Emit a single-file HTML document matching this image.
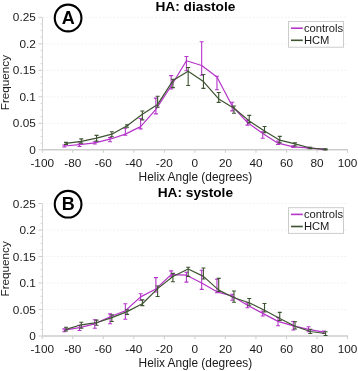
<!DOCTYPE html>
<html><head><meta charset="utf-8"><style>
html,body{margin:0;padding:0;background:#fff;}
body{width:358px;height:371px;overflow:hidden;}
svg{display:block;font-family:"Liberation Sans", sans-serif;will-change:transform;}
</style></head><body>
<svg width="358" height="371" viewBox="0 0 358 371">
<rect width="358" height="371" fill="#fff"/>
<line x1="43" y1="123.3" x2="348" y2="123.3" stroke="#f2f2f2" stroke-width="1" stroke-dasharray="2,1.5"/>
<line x1="43" y1="96.8" x2="348" y2="96.8" stroke="#f2f2f2" stroke-width="1" stroke-dasharray="2,1.5"/>
<line x1="43" y1="70.3" x2="348" y2="70.3" stroke="#f2f2f2" stroke-width="1" stroke-dasharray="2,1.5"/>
<line x1="43" y1="43.8" x2="348" y2="43.8" stroke="#f2f2f2" stroke-width="1" stroke-dasharray="2,1.5"/>
<line x1="43" y1="17.3" x2="348" y2="17.3" stroke="#f2f2f2" stroke-width="1" stroke-dasharray="2,1.5"/>
<line x1="42.5" y1="17.3" x2="42.5" y2="149.8" stroke="#d4d4d4" stroke-width="1"/>
<line x1="42" y1="149.8" x2="348" y2="149.8" stroke="#cdcdcd" stroke-width="1.4"/>
<line x1="38.5" y1="149.8" x2="42" y2="149.8" stroke="#cdcdcd" stroke-width="1"/>
<line x1="38.5" y1="123.3" x2="42" y2="123.3" stroke="#cdcdcd" stroke-width="1"/>
<line x1="38.5" y1="96.8" x2="42" y2="96.8" stroke="#cdcdcd" stroke-width="1"/>
<line x1="38.5" y1="70.3" x2="42" y2="70.3" stroke="#cdcdcd" stroke-width="1"/>
<line x1="38.5" y1="43.8" x2="42" y2="43.8" stroke="#cdcdcd" stroke-width="1"/>
<line x1="38.5" y1="17.3" x2="42" y2="17.3" stroke="#cdcdcd" stroke-width="1"/>
<line x1="40.5" y1="143.18" x2="42" y2="143.18" stroke="#cdcdcd" stroke-width="0.8"/>
<line x1="40.5" y1="136.55" x2="42" y2="136.55" stroke="#cdcdcd" stroke-width="0.8"/>
<line x1="40.5" y1="129.93" x2="42" y2="129.93" stroke="#cdcdcd" stroke-width="0.8"/>
<line x1="40.5" y1="116.68" x2="42" y2="116.68" stroke="#cdcdcd" stroke-width="0.8"/>
<line x1="40.5" y1="110.05" x2="42" y2="110.05" stroke="#cdcdcd" stroke-width="0.8"/>
<line x1="40.5" y1="103.43" x2="42" y2="103.43" stroke="#cdcdcd" stroke-width="0.8"/>
<line x1="40.5" y1="90.18" x2="42" y2="90.18" stroke="#cdcdcd" stroke-width="0.8"/>
<line x1="40.5" y1="83.55" x2="42" y2="83.55" stroke="#cdcdcd" stroke-width="0.8"/>
<line x1="40.5" y1="76.93" x2="42" y2="76.93" stroke="#cdcdcd" stroke-width="0.8"/>
<line x1="40.5" y1="63.68" x2="42" y2="63.68" stroke="#cdcdcd" stroke-width="0.8"/>
<line x1="40.5" y1="57.05" x2="42" y2="57.05" stroke="#cdcdcd" stroke-width="0.8"/>
<line x1="40.5" y1="50.43" x2="42" y2="50.43" stroke="#cdcdcd" stroke-width="0.8"/>
<line x1="40.5" y1="37.18" x2="42" y2="37.18" stroke="#cdcdcd" stroke-width="0.8"/>
<line x1="40.5" y1="30.55" x2="42" y2="30.55" stroke="#cdcdcd" stroke-width="0.8"/>
<line x1="40.5" y1="23.93" x2="42" y2="23.93" stroke="#cdcdcd" stroke-width="0.8"/>
<line x1="42.22" y1="149.8" x2="42.22" y2="152.8" stroke="#cdcdcd" stroke-width="1"/>
<line x1="72.76" y1="149.8" x2="72.76" y2="152.8" stroke="#cdcdcd" stroke-width="1"/>
<line x1="103.29" y1="149.8" x2="103.29" y2="152.8" stroke="#cdcdcd" stroke-width="1"/>
<line x1="133.83" y1="149.8" x2="133.83" y2="152.8" stroke="#cdcdcd" stroke-width="1"/>
<line x1="164.36" y1="149.8" x2="164.36" y2="152.8" stroke="#cdcdcd" stroke-width="1"/>
<line x1="194.9" y1="149.8" x2="194.9" y2="152.8" stroke="#cdcdcd" stroke-width="1"/>
<line x1="225.44" y1="149.8" x2="225.44" y2="152.8" stroke="#cdcdcd" stroke-width="1"/>
<line x1="255.97" y1="149.8" x2="255.97" y2="152.8" stroke="#cdcdcd" stroke-width="1"/>
<line x1="286.51" y1="149.8" x2="286.51" y2="152.8" stroke="#cdcdcd" stroke-width="1"/>
<line x1="317.04" y1="149.8" x2="317.04" y2="152.8" stroke="#cdcdcd" stroke-width="1"/>
<line x1="347.58" y1="149.8" x2="347.58" y2="152.8" stroke="#cdcdcd" stroke-width="1"/>
<text x="35.8" y="153.9" text-anchor="end" font-size="11.8" fill="#1a1a1a">0</text>
<text x="35.8" y="127.4" text-anchor="end" font-size="11.8" fill="#1a1a1a">0.05</text>
<text x="35.8" y="100.9" text-anchor="end" font-size="11.8" fill="#1a1a1a">0.1</text>
<text x="35.8" y="74.4" text-anchor="end" font-size="11.8" fill="#1a1a1a">0.15</text>
<text x="35.8" y="47.9" text-anchor="end" font-size="11.8" fill="#1a1a1a">0.2</text>
<text x="35.8" y="21.4" text-anchor="end" font-size="11.8" fill="#1a1a1a">0.25</text>
<text x="42.22" y="166.8" text-anchor="middle" font-size="11.8" fill="#1a1a1a">-100</text>
<text x="72.76" y="166.8" text-anchor="middle" font-size="11.8" fill="#1a1a1a">-80</text>
<text x="103.29" y="166.8" text-anchor="middle" font-size="11.8" fill="#1a1a1a">-60</text>
<text x="133.83" y="166.8" text-anchor="middle" font-size="11.8" fill="#1a1a1a">-40</text>
<text x="164.36" y="166.8" text-anchor="middle" font-size="11.8" fill="#1a1a1a">-20</text>
<text x="194.9" y="166.8" text-anchor="middle" font-size="11.8" fill="#1a1a1a">0</text>
<text x="225.44" y="166.8" text-anchor="middle" font-size="11.8" fill="#1a1a1a">20</text>
<text x="255.97" y="166.8" text-anchor="middle" font-size="11.8" fill="#1a1a1a">40</text>
<text x="286.51" y="166.8" text-anchor="middle" font-size="11.8" fill="#1a1a1a">60</text>
<text x="317.04" y="166.8" text-anchor="middle" font-size="11.8" fill="#1a1a1a">80</text>
<text x="347.58" y="166.8" text-anchor="middle" font-size="11.8" fill="#1a1a1a">100</text>
<text x="195.4" y="181.1" text-anchor="middle" font-size="11.9" fill="#1a1a1a">Helix Angle (degrees)</text>
<text transform="translate(9,82.6) rotate(-90)" text-anchor="middle" font-size="11.7" fill="#1a1a1a">Frequency</text>
<text x="195.4" y="10.5" text-anchor="middle" font-size="13.7" font-weight="bold" fill="#000">HA: diastole</text>
<circle cx="68.1" cy="18" r="13.35" fill="none" stroke="#000" stroke-width="2.1"/>
<text x="68.3" y="23.8" text-anchor="middle" font-size="18" font-weight="bold" fill="#000">A</text>
<polyline points="64.27,146 79.54,144.6 94.81,142.9 110.08,139.2 125.34,134.1 140.61,126.6 155.88,109.3 171.15,86 186.42,60.8 201.68,65.5 216.95,77 232.22,106 247.49,122.6 262.76,133.5 278.02,143.2 293.29,146.8 308.56,147.8 323.83,149.4" fill="none" stroke="#b534c9" stroke-width="1.2" stroke-linejoin="round"/>
<path d="M64.27 145V147M62.27 145H66.27M62.27 147H66.27" stroke="#b534c9" stroke-width="1.1" fill="none"/>
<path d="M79.54 143V146.5M77.54 143H81.54M77.54 146.5H81.54" stroke="#b534c9" stroke-width="1.1" fill="none"/>
<path d="M94.81 141.8V144M92.81 141.8H96.81M92.81 144H96.81" stroke="#b534c9" stroke-width="1.1" fill="none"/>
<path d="M110.08 137.6V141.8M108.08 137.6H112.08M108.08 141.8H112.08" stroke="#b534c9" stroke-width="1.1" fill="none"/>
<path d="M125.34 128.2V135.3M123.34 128.2H127.34M123.34 135.3H127.34" stroke="#b534c9" stroke-width="1.1" fill="none"/>
<path d="M140.61 118.5V128.9M138.61 118.5H142.61M138.61 128.9H142.61" stroke="#b534c9" stroke-width="1.1" fill="none"/>
<path d="M155.88 98.1V113.9M153.88 98.1H157.88M153.88 113.9H157.88" stroke="#b534c9" stroke-width="1.1" fill="none"/>
<path d="M171.15 75.6V89M169.15 75.6H173.15M169.15 89H173.15" stroke="#b534c9" stroke-width="1.1" fill="none"/>
<path d="M186.42 56.5V70.7M184.42 56.5H188.42M184.42 70.7H188.42" stroke="#b534c9" stroke-width="1.1" fill="none"/>
<path d="M201.68 41.7V75.2M199.68 41.7H203.68M199.68 75.2H203.68" stroke="#b534c9" stroke-width="1.1" fill="none"/>
<path d="M216.95 76.3V89.7M214.95 76.3H218.95M214.95 89.7H218.95" stroke="#b534c9" stroke-width="1.1" fill="none"/>
<path d="M232.22 102.3V110.9M230.22 102.3H234.22M230.22 110.9H234.22" stroke="#b534c9" stroke-width="1.1" fill="none"/>
<path d="M247.49 120.1V125.1M245.49 120.1H249.49M245.49 125.1H249.49" stroke="#b534c9" stroke-width="1.1" fill="none"/>
<path d="M262.76 131.8V138.2M260.76 131.8H264.76M260.76 138.2H264.76" stroke="#b534c9" stroke-width="1.1" fill="none"/>
<path d="M278.02 141V144.5M276.02 141H280.02M276.02 144.5H280.02" stroke="#b534c9" stroke-width="1.1" fill="none"/>
<path d="M293.29 145.8V147.4M291.29 145.8H295.29M291.29 147.4H295.29" stroke="#b534c9" stroke-width="1.1" fill="none"/>
<path d="M308.56 147.4V148.2M306.56 147.4H310.56M306.56 148.2H310.56" stroke="#b534c9" stroke-width="1.1" fill="none"/>
<path d="M323.83 149V149.8M321.83 149H325.83M321.83 149.8H325.83" stroke="#b534c9" stroke-width="1.1" fill="none"/>
<polyline points="66.02,143.4 81.29,141.3 96.56,138.2 111.83,134.2 127.09,125.7 142.36,114.3 157.63,104.4 172.9,80.6 188.17,71.3 203.43,81.6 218.7,98.9 233.97,108.2 249.24,120.9 264.51,131 279.77,140.2 295.04,143.8 310.31,148 325.58,149.4" fill="none" stroke="#3d5331" stroke-width="1.2" stroke-linejoin="round"/>
<path d="M66.02 142.4V144.4M64.02 142.4H68.02M64.02 144.4H68.02" stroke="#3d5331" stroke-width="1.1" fill="none"/>
<path d="M81.29 138.9V143.1M79.29 138.9H83.29M79.29 143.1H83.29" stroke="#3d5331" stroke-width="1.1" fill="none"/>
<path d="M96.56 135.4V141.1M94.56 135.4H98.56M94.56 141.1H98.56" stroke="#3d5331" stroke-width="1.1" fill="none"/>
<path d="M111.83 131.7V136.7M109.83 131.7H113.83M109.83 136.7H113.83" stroke="#3d5331" stroke-width="1.1" fill="none"/>
<path d="M127.09 124.9V127.2M125.09 124.9H129.09M125.09 127.2H129.09" stroke="#3d5331" stroke-width="1.1" fill="none"/>
<path d="M142.36 111V119.9M140.36 111H144.36M140.36 119.9H144.36" stroke="#3d5331" stroke-width="1.1" fill="none"/>
<path d="M157.63 96.3V107.2M155.63 96.3H159.63M155.63 107.2H159.63" stroke="#3d5331" stroke-width="1.1" fill="none"/>
<path d="M172.9 79.2V87.6M170.9 79.2H174.9M170.9 87.6H174.9" stroke="#3d5331" stroke-width="1.1" fill="none"/>
<path d="M188.17 67.5V85.5M186.17 67.5H190.17M186.17 85.5H190.17" stroke="#3d5331" stroke-width="1.1" fill="none"/>
<path d="M203.43 74.5V88.4M201.43 74.5H205.43M201.43 88.4H205.43" stroke="#3d5331" stroke-width="1.1" fill="none"/>
<path d="M218.7 92.5V102.4M216.7 92.5H220.7M216.7 102.4H220.7" stroke="#3d5331" stroke-width="1.1" fill="none"/>
<path d="M233.97 106V113.3M231.97 106H235.97M231.97 113.3H235.97" stroke="#3d5331" stroke-width="1.1" fill="none"/>
<path d="M249.24 115.4V122.6M247.24 115.4H251.24M247.24 122.6H251.24" stroke="#3d5331" stroke-width="1.1" fill="none"/>
<path d="M264.51 126.5V132.7M262.51 126.5H266.51M262.51 132.7H266.51" stroke="#3d5331" stroke-width="1.1" fill="none"/>
<path d="M279.77 136.4V142.7M277.77 136.4H281.77M277.77 142.7H281.77" stroke="#3d5331" stroke-width="1.1" fill="none"/>
<path d="M295.04 142.7V146M293.04 142.7H297.04M293.04 146H297.04" stroke="#3d5331" stroke-width="1.1" fill="none"/>
<path d="M310.31 147.2V148.8M308.31 147.2H312.31M308.31 148.8H312.31" stroke="#3d5331" stroke-width="1.1" fill="none"/>
<path d="M325.58 148.9V149.9M323.58 148.9H327.58M323.58 149.9H327.58" stroke="#3d5331" stroke-width="1.1" fill="none"/>
<rect x="288.5" y="21.5" width="55" height="25.7" fill="#fff" stroke="#cccccc" stroke-width="1"/>
<line x1="291" y1="28.2" x2="302.8" y2="28.2" stroke="#b534c9" stroke-width="1.6"/>
<line x1="291" y1="40.3" x2="302.8" y2="40.3" stroke="#3d5331" stroke-width="1.6"/>
<text x="303.9" y="32" font-size="11.2" fill="#1a1a1a">controls</text>
<text x="303.9" y="44" font-size="11.2" fill="#1a1a1a">HCM</text>
<line x1="43" y1="309.5" x2="348" y2="309.5" stroke="#f2f2f2" stroke-width="1" stroke-dasharray="2,1.5"/>
<line x1="43" y1="283" x2="348" y2="283" stroke="#f2f2f2" stroke-width="1" stroke-dasharray="2,1.5"/>
<line x1="43" y1="256.5" x2="348" y2="256.5" stroke="#f2f2f2" stroke-width="1" stroke-dasharray="2,1.5"/>
<line x1="43" y1="230" x2="348" y2="230" stroke="#f2f2f2" stroke-width="1" stroke-dasharray="2,1.5"/>
<line x1="43" y1="203.5" x2="348" y2="203.5" stroke="#f2f2f2" stroke-width="1" stroke-dasharray="2,1.5"/>
<line x1="42.5" y1="203.5" x2="42.5" y2="336" stroke="#d4d4d4" stroke-width="1"/>
<line x1="42" y1="336" x2="348" y2="336" stroke="#cdcdcd" stroke-width="1.4"/>
<line x1="38.5" y1="336" x2="42" y2="336" stroke="#cdcdcd" stroke-width="1"/>
<line x1="38.5" y1="309.5" x2="42" y2="309.5" stroke="#cdcdcd" stroke-width="1"/>
<line x1="38.5" y1="283" x2="42" y2="283" stroke="#cdcdcd" stroke-width="1"/>
<line x1="38.5" y1="256.5" x2="42" y2="256.5" stroke="#cdcdcd" stroke-width="1"/>
<line x1="38.5" y1="230" x2="42" y2="230" stroke="#cdcdcd" stroke-width="1"/>
<line x1="38.5" y1="203.5" x2="42" y2="203.5" stroke="#cdcdcd" stroke-width="1"/>
<line x1="40.5" y1="329.38" x2="42" y2="329.38" stroke="#cdcdcd" stroke-width="0.8"/>
<line x1="40.5" y1="322.75" x2="42" y2="322.75" stroke="#cdcdcd" stroke-width="0.8"/>
<line x1="40.5" y1="316.12" x2="42" y2="316.12" stroke="#cdcdcd" stroke-width="0.8"/>
<line x1="40.5" y1="302.88" x2="42" y2="302.88" stroke="#cdcdcd" stroke-width="0.8"/>
<line x1="40.5" y1="296.25" x2="42" y2="296.25" stroke="#cdcdcd" stroke-width="0.8"/>
<line x1="40.5" y1="289.62" x2="42" y2="289.62" stroke="#cdcdcd" stroke-width="0.8"/>
<line x1="40.5" y1="276.38" x2="42" y2="276.38" stroke="#cdcdcd" stroke-width="0.8"/>
<line x1="40.5" y1="269.75" x2="42" y2="269.75" stroke="#cdcdcd" stroke-width="0.8"/>
<line x1="40.5" y1="263.12" x2="42" y2="263.12" stroke="#cdcdcd" stroke-width="0.8"/>
<line x1="40.5" y1="249.88" x2="42" y2="249.88" stroke="#cdcdcd" stroke-width="0.8"/>
<line x1="40.5" y1="243.25" x2="42" y2="243.25" stroke="#cdcdcd" stroke-width="0.8"/>
<line x1="40.5" y1="236.62" x2="42" y2="236.62" stroke="#cdcdcd" stroke-width="0.8"/>
<line x1="40.5" y1="223.38" x2="42" y2="223.38" stroke="#cdcdcd" stroke-width="0.8"/>
<line x1="40.5" y1="216.75" x2="42" y2="216.75" stroke="#cdcdcd" stroke-width="0.8"/>
<line x1="40.5" y1="210.12" x2="42" y2="210.12" stroke="#cdcdcd" stroke-width="0.8"/>
<line x1="42.22" y1="336" x2="42.22" y2="339" stroke="#cdcdcd" stroke-width="1"/>
<line x1="72.76" y1="336" x2="72.76" y2="339" stroke="#cdcdcd" stroke-width="1"/>
<line x1="103.29" y1="336" x2="103.29" y2="339" stroke="#cdcdcd" stroke-width="1"/>
<line x1="133.83" y1="336" x2="133.83" y2="339" stroke="#cdcdcd" stroke-width="1"/>
<line x1="164.36" y1="336" x2="164.36" y2="339" stroke="#cdcdcd" stroke-width="1"/>
<line x1="194.9" y1="336" x2="194.9" y2="339" stroke="#cdcdcd" stroke-width="1"/>
<line x1="225.44" y1="336" x2="225.44" y2="339" stroke="#cdcdcd" stroke-width="1"/>
<line x1="255.97" y1="336" x2="255.97" y2="339" stroke="#cdcdcd" stroke-width="1"/>
<line x1="286.51" y1="336" x2="286.51" y2="339" stroke="#cdcdcd" stroke-width="1"/>
<line x1="317.04" y1="336" x2="317.04" y2="339" stroke="#cdcdcd" stroke-width="1"/>
<line x1="347.58" y1="336" x2="347.58" y2="339" stroke="#cdcdcd" stroke-width="1"/>
<text x="35.8" y="340.1" text-anchor="end" font-size="11.8" fill="#1a1a1a">0</text>
<text x="35.8" y="313.6" text-anchor="end" font-size="11.8" fill="#1a1a1a">0.05</text>
<text x="35.8" y="287.1" text-anchor="end" font-size="11.8" fill="#1a1a1a">0.1</text>
<text x="35.8" y="260.6" text-anchor="end" font-size="11.8" fill="#1a1a1a">0.15</text>
<text x="35.8" y="234.1" text-anchor="end" font-size="11.8" fill="#1a1a1a">0.2</text>
<text x="35.8" y="207.6" text-anchor="end" font-size="11.8" fill="#1a1a1a">0.25</text>
<text x="42.22" y="353" text-anchor="middle" font-size="11.8" fill="#1a1a1a">-100</text>
<text x="72.76" y="353" text-anchor="middle" font-size="11.8" fill="#1a1a1a">-80</text>
<text x="103.29" y="353" text-anchor="middle" font-size="11.8" fill="#1a1a1a">-60</text>
<text x="133.83" y="353" text-anchor="middle" font-size="11.8" fill="#1a1a1a">-40</text>
<text x="164.36" y="353" text-anchor="middle" font-size="11.8" fill="#1a1a1a">-20</text>
<text x="194.9" y="353" text-anchor="middle" font-size="11.8" fill="#1a1a1a">0</text>
<text x="225.44" y="353" text-anchor="middle" font-size="11.8" fill="#1a1a1a">20</text>
<text x="255.97" y="353" text-anchor="middle" font-size="11.8" fill="#1a1a1a">40</text>
<text x="286.51" y="353" text-anchor="middle" font-size="11.8" fill="#1a1a1a">60</text>
<text x="317.04" y="353" text-anchor="middle" font-size="11.8" fill="#1a1a1a">80</text>
<text x="347.58" y="353" text-anchor="middle" font-size="11.8" fill="#1a1a1a">100</text>
<text x="195.4" y="367.3" text-anchor="middle" font-size="11.9" fill="#1a1a1a">Helix Angle (degrees)</text>
<text transform="translate(9,268.8) rotate(-90)" text-anchor="middle" font-size="11.7" fill="#1a1a1a">Frequency</text>
<text x="195.4" y="196.7" text-anchor="middle" font-size="13.7" font-weight="bold" fill="#000">HA: systole</text>
<circle cx="68.1" cy="204.2" r="13.35" fill="none" stroke="#000" stroke-width="2.1"/>
<text x="68.3" y="210" text-anchor="middle" font-size="18" font-weight="bold" fill="#000">B</text>
<polyline points="64.27,330.2 79.54,327.7 94.81,323.8 110.08,316.8 125.34,310.7 140.61,296.9 155.88,289 171.15,274.6 186.42,275.2 201.68,283 216.95,291.8 232.22,296 247.49,305.2 262.76,313.4 278.02,321.4 293.29,325.8 308.56,329.3 323.83,332.2" fill="none" stroke="#b534c9" stroke-width="1.2" stroke-linejoin="round"/>
<path d="M64.27 328.9V331.8M62.27 328.9H66.27M62.27 331.8H66.27" stroke="#b534c9" stroke-width="1.1" fill="none"/>
<path d="M79.54 325.2V330.5M77.54 325.2H81.54M77.54 330.5H81.54" stroke="#b534c9" stroke-width="1.1" fill="none"/>
<path d="M94.81 319.8V328.2M92.81 319.8H96.81M92.81 328.2H96.81" stroke="#b534c9" stroke-width="1.1" fill="none"/>
<path d="M110.08 313.9V323.8M108.08 313.9H112.08M108.08 323.8H112.08" stroke="#b534c9" stroke-width="1.1" fill="none"/>
<path d="M125.34 303.7V319.2M123.34 303.7H127.34M123.34 319.2H127.34" stroke="#b534c9" stroke-width="1.1" fill="none"/>
<path d="M140.61 293.7V300.3M138.61 293.7H142.61M138.61 300.3H142.61" stroke="#b534c9" stroke-width="1.1" fill="none"/>
<path d="M155.88 277.6V292M153.88 277.6H157.88M153.88 292H157.88" stroke="#b534c9" stroke-width="1.1" fill="none"/>
<path d="M171.15 270.9V276.8M169.15 270.9H173.15M169.15 276.8H173.15" stroke="#b534c9" stroke-width="1.1" fill="none"/>
<path d="M186.42 272.3V282.1M184.42 272.3H188.42M184.42 282.1H188.42" stroke="#b534c9" stroke-width="1.1" fill="none"/>
<path d="M201.68 270.3V289.4M199.68 270.3H203.68M199.68 289.4H203.68" stroke="#b534c9" stroke-width="1.1" fill="none"/>
<path d="M216.95 279.2V292.7M214.95 279.2H218.95M214.95 292.7H218.95" stroke="#b534c9" stroke-width="1.1" fill="none"/>
<path d="M232.22 294.3V300.2M230.22 294.3H234.22M230.22 300.2H234.22" stroke="#b534c9" stroke-width="1.1" fill="none"/>
<path d="M247.49 302.9V307.7M245.49 302.9H249.49M245.49 307.7H249.49" stroke="#b534c9" stroke-width="1.1" fill="none"/>
<path d="M262.76 311V316M260.76 311H264.76M260.76 316H264.76" stroke="#b534c9" stroke-width="1.1" fill="none"/>
<path d="M278.02 317.3V325.8M276.02 317.3H280.02M276.02 325.8H280.02" stroke="#b534c9" stroke-width="1.1" fill="none"/>
<path d="M293.29 321.5V330M291.29 321.5H295.29M291.29 330H295.29" stroke="#b534c9" stroke-width="1.1" fill="none"/>
<path d="M308.56 326.8V331.8M306.56 326.8H310.56M306.56 331.8H310.56" stroke="#b534c9" stroke-width="1.1" fill="none"/>
<path d="M323.83 331V333.5M321.83 331H325.83M321.83 333.5H325.83" stroke="#b534c9" stroke-width="1.1" fill="none"/>
<polyline points="66.02,329.4 81.29,324.8 96.56,322.7 111.83,317.6 127.09,311.6 142.36,303.7 157.63,288.6 172.9,276.5 188.17,269 203.43,276.4 218.7,290.1 233.97,297.7 249.24,302.7 264.51,310.2 279.77,318.5 295.04,326.3 310.31,331.5 325.58,333.5" fill="none" stroke="#3d5331" stroke-width="1.2" stroke-linejoin="round"/>
<path d="M66.02 327.2V331M64.02 327.2H68.02M64.02 331H68.02" stroke="#3d5331" stroke-width="1.1" fill="none"/>
<path d="M81.29 322.3V328.2M79.29 322.3H83.29M79.29 328.2H83.29" stroke="#3d5331" stroke-width="1.1" fill="none"/>
<path d="M96.56 320.1V325.2M94.56 320.1H98.56M94.56 325.2H98.56" stroke="#3d5331" stroke-width="1.1" fill="none"/>
<path d="M111.83 314.8V321.5M109.83 314.8H113.83M109.83 321.5H113.83" stroke="#3d5331" stroke-width="1.1" fill="none"/>
<path d="M127.09 309.7V314.4M125.09 309.7H129.09M125.09 314.4H129.09" stroke="#3d5331" stroke-width="1.1" fill="none"/>
<path d="M142.36 299.9V305.6M140.36 299.9H144.36M140.36 305.6H144.36" stroke="#3d5331" stroke-width="1.1" fill="none"/>
<path d="M157.63 286V296.5M155.63 286H159.63M155.63 296.5H159.63" stroke="#3d5331" stroke-width="1.1" fill="none"/>
<path d="M172.9 273.4V281.8M170.9 273.4H174.9M170.9 281.8H174.9" stroke="#3d5331" stroke-width="1.1" fill="none"/>
<path d="M188.17 267.2V276.4M186.17 267.2H190.17M186.17 276.4H190.17" stroke="#3d5331" stroke-width="1.1" fill="none"/>
<path d="M203.43 268V279M201.43 268H205.43M201.43 279H205.43" stroke="#3d5331" stroke-width="1.1" fill="none"/>
<path d="M218.7 278.4V291.5M216.7 278.4H220.7M216.7 291.5H220.7" stroke="#3d5331" stroke-width="1.1" fill="none"/>
<path d="M233.97 291V302.2M231.97 291H235.97M231.97 302.2H235.97" stroke="#3d5331" stroke-width="1.1" fill="none"/>
<path d="M249.24 298.5V305.2M247.24 298.5H251.24M247.24 305.2H251.24" stroke="#3d5331" stroke-width="1.1" fill="none"/>
<path d="M264.51 303.5V312M262.51 303.5H266.51M262.51 312H266.51" stroke="#3d5331" stroke-width="1.1" fill="none"/>
<path d="M279.77 312.4V320.5M277.77 312.4H281.77M277.77 320.5H281.77" stroke="#3d5331" stroke-width="1.1" fill="none"/>
<path d="M295.04 321.8V329M293.04 321.8H297.04M293.04 329H297.04" stroke="#3d5331" stroke-width="1.1" fill="none"/>
<path d="M310.31 329.3V333.5M308.31 329.3H312.31M308.31 333.5H312.31" stroke="#3d5331" stroke-width="1.1" fill="none"/>
<path d="M325.58 331.8V335.5M323.58 331.8H327.58M323.58 335.5H327.58" stroke="#3d5331" stroke-width="1.1" fill="none"/>
<rect x="288.5" y="207.7" width="55" height="25.7" fill="#fff" stroke="#cccccc" stroke-width="1"/>
<line x1="291" y1="214.4" x2="302.8" y2="214.4" stroke="#b534c9" stroke-width="1.6"/>
<line x1="291" y1="226.5" x2="302.8" y2="226.5" stroke="#3d5331" stroke-width="1.6"/>
<text x="303.9" y="218.2" font-size="11.2" fill="#1a1a1a">controls</text>
<text x="303.9" y="230.2" font-size="11.2" fill="#1a1a1a">HCM</text>
</svg>
</body></html>
